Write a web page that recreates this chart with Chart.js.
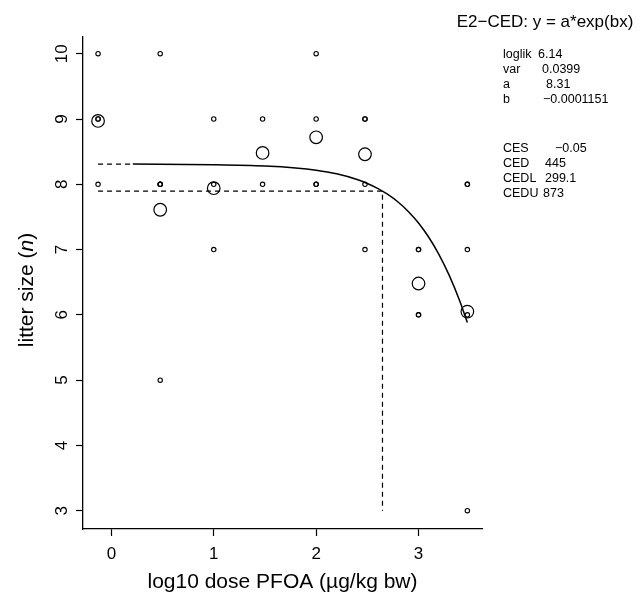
<!DOCTYPE html>
<html>
<head>
<meta charset="utf-8">
<script src="https://cdn.jsdelivr.net/npm/chart.js@4"></script>
<style>
  html, body { margin: 0; padding: 0; background: #fff; }
</style>
</head>
<body>
<canvas id="chart" width="644" height="597"></canvas>
<script>
"use strict";

// individual litters (log10 dose, litter size)
const obsX = [-0.13, -0.13, -0.13, -0.13,
  0.477, 0.477, 0.477, 0.477, 0.477,
  1, 1, 1,
  1.477, 1.477,
  2, 2, 2, 2,
  2.477, 2.477, 2.477, 2.477,
  3, 3, 3, 3,
  3.477, 3.477, 3.477, 3.477, 3.477];
const obsY = [10, 9, 9, 8,
  10, 8, 8, 8, 5,
  9, 8, 7,
  9, 8,
  10, 9, 8, 8,
  9, 9, 8, 7,
  7, 7, 6, 6,
  8, 8, 7, 6, 3];

// group means
const meanX = [-0.13, 0.477, 1, 1.477, 2, 2.477, 3, 3.477];
const meanY = [8.97, 7.61, 7.94, 8.48, 8.72, 8.46, 6.48, 6.05];

// fitted curve
const curveX = [0.21, 1, 1.5, 1.8, 2, 2.2, 2.4, 2.5, 2.6, 2.7, 2.8, 2.9, 3, 3.1, 3.2, 3.3, 3.4, 3.477];
const curveY = [8.31, 8.30, 8.28, 8.25, 8.215, 8.16, 8.073, 8.013, 7.938, 7.844, 7.728, 7.584, 7.407, 7.189, 6.924, 6.605, 6.224, 5.884];

// background level a and CES / CED guide
const aLineX = [-0.13, 0.2];
const aLineY = [8.31, 8.31];
const cedLineX = [-0.13, 2.648, 2.648];
const cedLineY = [7.895, 7.895, 3];

const xTicks = [0, 1, 2, 3];
const yTicks = [3, 4, 5, 6, 7, 8, 9, 10];

const modelTitle = 'E2\u2212CED: y = a*exp(bx)';
const statNames = ['loglik', 'var', 'a', 'b', 'CES', 'CED', 'CEDL', 'CEDU'];
const statValues = ['6.14', '0.0399', '8.31', '\u22120.0001151', '\u22120.05', '445', '299.1', '873'];

const FONT = '"Liberation Sans", Arial, Helvetica, sans-serif';

function pts(xs, ys) {
  return xs.map((x, i) => ({ x: x, y: ys[i] }));
}

const textPlugin = {
  id: 'textPlugin',
  afterDraw(chart) {
    const ctx = chart.ctx;
    ctx.save();
    ctx.fillStyle = '#000';

    ctx.font = '17px ' + FONT;
    ctx.textAlign = 'center';
    ctx.textBaseline = 'alphabetic';
    ctx.fillText(modelTitle, 545, 27);

    const rowY = [55, 70, 85, 100, 149, 164, 179, 194];
    const valX = [538, 542, 546, 543, 555, 545, 545, 543];
    ctx.font = '12.5px ' + FONT;
    ctx.textAlign = 'left';
    ctx.textBaseline = 'middle';
    statNames.forEach((n, i) => {
      ctx.fillText(n, 503, rowY[i]);
      ctx.fillText(statValues[i], valX[i], rowY[i]);
    });

    // y axis title with italic n
    const normal = '21px ' + FONT;
    const italic = 'italic 21px ' + FONT;
    ctx.translate(27, 290);
    ctx.rotate(-Math.PI / 2);
    ctx.font = normal;
    const w1 = ctx.measureText('litter size (').width;
    const w3 = ctx.measureText(')').width;
    ctx.font = italic;
    const w2 = ctx.measureText('n').width;
    let x0 = -(w1 + w2 + w3) / 2;
    ctx.font = normal;
    ctx.fillText('litter size (', x0, 0);
    ctx.font = italic;
    ctx.fillText('n', x0 + w1, 0);
    ctx.font = normal;
    ctx.fillText(')', x0 + w1 + w2, 0);
    ctx.restore();
  }
};

const axisGrid = {
  display: true,
  drawOnChartArea: false,
  drawTicks: true,
  tickLength: 7,
  tickWidth: 1.2,
  tickColor: '#000',
  color: '#000'
};

const chart = new Chart(document.getElementById('chart').getContext('2d'), {
  type: 'scatter',
  data: {
    datasets: [
      {
        data: pts(obsX, obsY),
        pointRadius: 2.2,
        borderWidth: 1.1,
        borderColor: '#000',
        backgroundColor: 'rgba(0,0,0,0)'
      },
      {
        data: pts(meanX, meanY),
        pointRadius: 6.3,
        borderWidth: 1.2,
        borderColor: '#000',
        backgroundColor: 'rgba(0,0,0,0)'
      },
      {
        data: pts(curveX, curveY),
        showLine: true,
        pointRadius: 0,
        borderWidth: 1.5,
        borderColor: '#000',
        tension: 0.4,
        cubicInterpolationMode: 'monotone'
      },
      {
        data: pts(aLineX, aLineY),
        showLine: true,
        pointRadius: 0,
        borderWidth: 1.2,
        borderColor: '#000',
        borderDash: [5, 4]
      },
      {
        data: pts(cedLineX, cedLineY),
        showLine: true,
        pointRadius: 0,
        borderWidth: 1.2,
        borderColor: '#000',
        borderDash: [5, 4]
      }
    ]
  },
  options: {
    responsive: false,
    animation: false,
    devicePixelRatio: 1,
    layout: { padding: { top: 37, right: 162, bottom: 0, left: 0 } },
    plugins: {
      legend: { display: false },
      tooltip: { enabled: false }
    },
    scales: {
      x: {
        type: 'linear',
        min: -0.277,
        max: 3.62,
        afterBuildTicks: s => { s.ticks = xTicks.map(v => ({ value: v })); },
        afterFit: s => { s.height = 68; },
        grid: axisGrid,
        border: { display: true, color: '#000', width: 1.3 },
        ticks: { color: '#000', font: { family: FONT, size: 17 }, padding: 8 },
        title: {
          display: true,
          text: 'log10 dose PFOA (\u00b5g/kg bw)',
          color: '#000',
          font: { family: FONT, size: 21 },
          padding: { top: 0, bottom: 2 }
        }
      },
      y: {
        type: 'linear',
        min: 2.72,
        max: 10.256,
        afterBuildTicks: s => { s.ticks = yTicks.map(v => ({ value: v })); },
        afterFit: s => { s.width = 83; },
        grid: axisGrid,
        border: { display: true, color: '#000', width: 1.3 },
        ticks: {
          color: '#000',
          font: { family: FONT, size: 17 },
          padding: 4,
          minRotation: 90,
          maxRotation: 90,
          crossAlign: 'center'
        }
      }
    }
  },
  plugins: [textPlugin]
});
</script>
</body>
</html>
